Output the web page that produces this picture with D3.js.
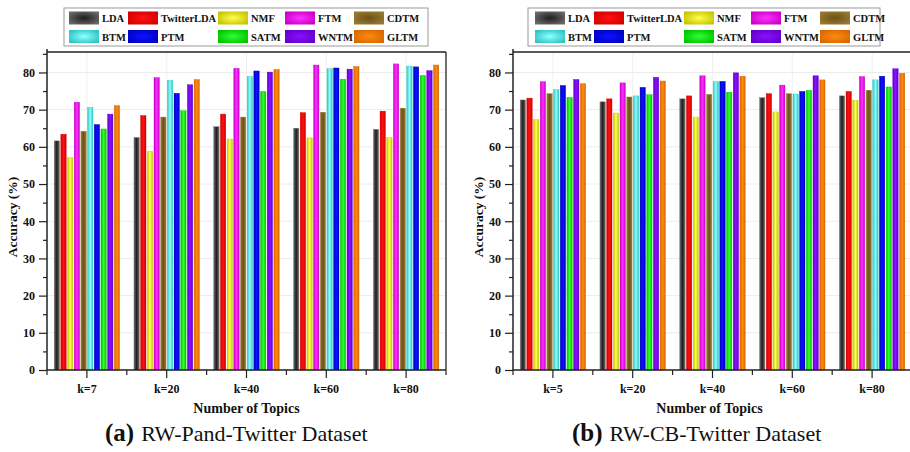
<!DOCTYPE html>
<html>
<head>
<meta charset="utf-8">
<script src="https://cdn.jsdelivr.net/npm/d3@7/dist/d3.min.js"></script>
<style>
  html, body { margin: 0; padding: 0; background: #fff; }
  svg { display: block; }
  text { font-family: "Liberation Serif", "Times New Roman", serif; }
</style>
</head>
<body>
<svg id="chart" width="910" height="452"></svg>
<script>
// ---------------- DATA ----------------
const methods = ["LDA", "TwitterLDA", "NMF", "FTM", "CDTM", "BTM", "PTM", "SATM", "WNTM", "GLTM"];
const categoriesA = ["k=7", "k=20", "k=40", "k=60", "k=80"];
const categoriesB = ["k=5", "k=20", "k=40", "k=60", "k=80"];
const yTicks = [0, 10, 20, 30, 40, 50, 60, 70, 80];

// (a) RW-Pand-Twitter Dataset: accuracy per method, one array per k
const pandK7  = [61.6, 63.4, 57.1, 72.0, 64.2, 70.6, 66.0, 64.8, 68.8, 71.1];
const pandK20 = [62.5, 68.4, 58.8, 78.6, 68.0, 77.9, 74.4, 69.7, 76.7, 78.1];
const pandK40 = [65.4, 68.8, 62.1, 81.1, 68.0, 78.9, 80.4, 74.9, 80.1, 80.8];
const pandK60 = [65.0, 69.2, 62.4, 82.0, 69.3, 81.0, 81.2, 78.2, 80.9, 81.6];
const pandK80 = [64.7, 69.6, 62.5, 82.3, 70.4, 81.7, 81.5, 79.2, 80.5, 82.0];

// (b) RW-CB-Twitter Dataset
const cbK5  = [72.6, 73.1, 67.3, 77.5, 74.3, 75.4, 76.5, 73.3, 78.1, 77.0];
const cbK20 = [72.1, 72.9, 69.1, 77.2, 73.4, 73.7, 76.0, 74.0, 78.7, 77.7];
const cbK40 = [72.9, 73.7, 68.0, 79.1, 74.1, 77.5, 77.6, 74.7, 79.9, 79.0];
const cbK60 = [73.2, 74.3, 69.4, 76.6, 74.3, 74.2, 74.9, 75.2, 79.1, 78.0];
const cbK80 = [73.7, 74.9, 72.5, 78.9, 75.2, 78.0, 79.0, 76.1, 81.0, 79.8];

// ---------------- STYLE ----------------
const edgeColors   = ["#6a6a6a", "#d40000", "#c4c400", "#c800c8", "#9a7a30", "#2ec4c4", "#0000c4", "#00c400", "#6400cc", "#d86800"];
const centerColors = ["#1e1e1e", "#ff1010", "#ffff50", "#ff30ff", "#6a5218", "#90ffff", "#1010ff", "#30ff30", "#8a10ff", "#ff8a10"];

const svg = d3.select("#chart");
const defs = svg.append("defs");
methods.forEach((m, i) => {
  const lg = defs.append("linearGradient").attr("id", "bar" + i)
    .attr("x1", "0%").attr("x2", "100%").attr("y1", "0%").attr("y2", "0%");
  lg.append("stop").attr("offset", "0%").attr("stop-color", edgeColors[i]);
  lg.append("stop").attr("offset", "50%").attr("stop-color", centerColors[i]);
  lg.append("stop").attr("offset", "100%").attr("stop-color", edgeColors[i]);
  const rg = defs.append("radialGradient").attr("id", "leg" + i)
    .attr("cx", "50%").attr("cy", "50%").attr("r", "60%");
  rg.append("stop").attr("offset", "0%").attr("stop-color", centerColors[i]);
  rg.append("stop").attr("offset", "100%").attr("stop-color", edgeColors[i]);
});

const yTop = 52, yBottom = 370;
const y = d3.scaleLinear().domain([0, 85.5]).range([yBottom, yTop]);

function drawPanel(opts) {
  const { x0, x1, cats, groups, legendBox, legendCols, letter, title, captionX } = opts;
  const g = svg.append("g");
  const x = d3.scaleBand().domain(cats).range([x0, x1]).padding(0);
  const inner = d3.scaleBand().domain(methods).range([6.5, x.bandwidth() - 6.5])
    .paddingInner(0.2).paddingOuter(0.1);

  // grid
  g.append("g").selectAll("line.hg").data(yTicks.filter(t => t > 0)).join("line")
    .attr("x1", x0).attr("x2", x1).attr("y1", d => y(d)).attr("y2", d => y(d))
    .attr("stroke", "#ececec").attr("stroke-width", 1);
  g.append("g").selectAll("line.vg").data(cats).join("line")
    .attr("x1", d => x(d) + x.bandwidth() / 2).attr("x2", d => x(d) + x.bandwidth() / 2)
    .attr("y1", yTop).attr("y2", yBottom)
    .attr("stroke", "#f0f0f0").attr("stroke-width", 1);

  // bars
  const rows = cats.map((c, ci) => ({ cat: c, vals: groups[ci] }));
  const gg = g.append("g").selectAll("g").data(rows).join("g")
    .attr("transform", d => `translate(${x(d.cat)},0)`);
  gg.selectAll("rect").data(d => d.vals.map((v, i) => ({ m: methods[i], v, i }))).join("rect")
    .attr("x", d => inner(d.m))
    .attr("width", inner.bandwidth())
    .attr("y", d => y(d.v))
    .attr("height", d => y(0) - y(d.v))
    .attr("fill", d => `url(#bar${d.i})`)
    .attr("stroke", d => edgeColors[d.i]).attr("stroke-width", 0.4);

  // frame
  g.append("line").attr("x1", x0).attr("x2", x1).attr("y1", yTop).attr("y2", yTop)
    .attr("stroke", "#222").attr("stroke-width", 1.3);
  g.append("line").attr("x1", x1).attr("x2", x1).attr("y1", yTop).attr("y2", yBottom)
    .attr("stroke", "#222").attr("stroke-width", 1.3);

  // y axis
  const yAxis = d3.axisLeft(y).tickValues(yTicks).tickSize(8).tickPadding(4).tickFormat(d3.format("d"));
  const ya = g.append("g").attr("transform", `translate(${x0},0)`).call(yAxis);
  ya.select(".domain").attr("stroke", "#222").attr("stroke-width", 1.5)
    .attr("d", `M0,${yBottom}V${yTop - 3}`);
  ya.selectAll(".tick line").attr("stroke", "#222").attr("stroke-width", 1.2);
  ya.selectAll(".tick text").attr("font-size", 12).attr("font-weight", "bold").attr("fill", "#111")
    .attr("font-family", '"Liberation Serif", serif');
  const yMinor = d3.axisLeft(y).tickValues([5, 15, 25, 35, 45, 55, 65, 75, 85]).tickSize(4).tickFormat("");
  const ym = g.append("g").attr("transform", `translate(${x0},0)`).call(yMinor);
  ym.select(".domain").remove();
  ym.selectAll(".tick line").attr("stroke", "#222").attr("stroke-width", 1.2);

  // x axis
  const xAxis = d3.axisBottom(x).tickSize(8).tickPadding(6);
  const xa = g.append("g").attr("transform", `translate(0,${yBottom})`).call(xAxis);
  xa.select(".domain").attr("stroke", "#222").attr("stroke-width", 1.5)
    .attr("d", `M${x0},0H${x1}`);
  xa.selectAll(".tick line").attr("stroke", "#222").attr("stroke-width", 1.2);
  xa.selectAll(".tick text").attr("font-size", 12).attr("font-weight", "bold").attr("fill", "#111")
    .attr("font-family", '"Liberation Serif", serif');
  // minor ticks at band boundaries
  const bounds = cats.map(c => x(c)).concat([x1]);
  g.append("g").selectAll("line").data(bounds).join("line")
    .attr("x1", d => d).attr("x2", d => d).attr("y1", yBottom).attr("y2", yBottom + 5)
    .attr("stroke", "#222").attr("stroke-width", 1.2);

  // axis titles
  g.append("text").attr("x", (x0 + Math.min(x1, 910)) / 2 - (x1 > 910 ? 2 : 0)).attr("y", 413)
    .attr("text-anchor", "middle").attr("font-size", 14).attr("font-weight", "bold").attr("fill", "#111")
    .text("Number of Topics");
  g.append("text").attr("transform", `translate(${x0 - 30},${(yTop + yBottom) / 2 + 6}) rotate(-90)`)
    .attr("text-anchor", "middle").attr("font-size", 13.5).attr("font-weight", "bold").attr("fill", "#111")
    .text("Accuracy (%)");

  // legend
  const [bx, by, bw, bh] = legendBox;
  g.append("rect").attr("x", bx).attr("y", by).attr("width", bw).attr("height", bh)
    .attr("fill", "#fff").attr("stroke", "#9a9a9a").attr("stroke-width", 1);
  const li = g.append("g").selectAll("g").data(methods).join("g")
    .attr("transform", (d, i) => `translate(${legendCols[i % 5]},${i < 5 ? 11.5 : 30})`);
  li.append("rect").attr("width", 30).attr("height", 13)
    .attr("fill", (d, i) => `url(#leg${i})`);
  li.append("text").attr("x", 33).attr("y", 10.5)
    .attr("font-size", 10.5).attr("font-weight", "bold").attr("fill", "#111").text(d => d);

  // caption
  const cap = g.append("text").attr("x", captionX).attr("y", 441).attr("fill", "#111");
  cap.append("tspan").attr("font-weight", "bold").attr("font-size", 25).text(letter);
  cap.append("tspan").attr("font-size", 22).attr("dx", 7).text(title);
}

drawPanel({
  x0: 47, x1: 446, cats: categoriesA,
  groups: [pandK7, pandK20, pandK40, pandK60, pandK80],
  legendBox: [64, 8, 364, 38],
  legendCols: [69, 128, 218, 285, 354],
  letter: "(a)", title: "RW-Pand-Twitter Dataset", captionX: 105
});
drawPanel({
  x0: 513, x1: 912, cats: categoriesB,
  groups: [cbK5, cbK20, cbK40, cbK60, cbK80],
  legendBox: [528, 8, 352, 38],
  legendCols: [535, 594, 684, 751, 820],
  letter: "(b)", title: "RW-CB-Twitter Dataset", captionX: 572
});
</script>
</body>
</html>
